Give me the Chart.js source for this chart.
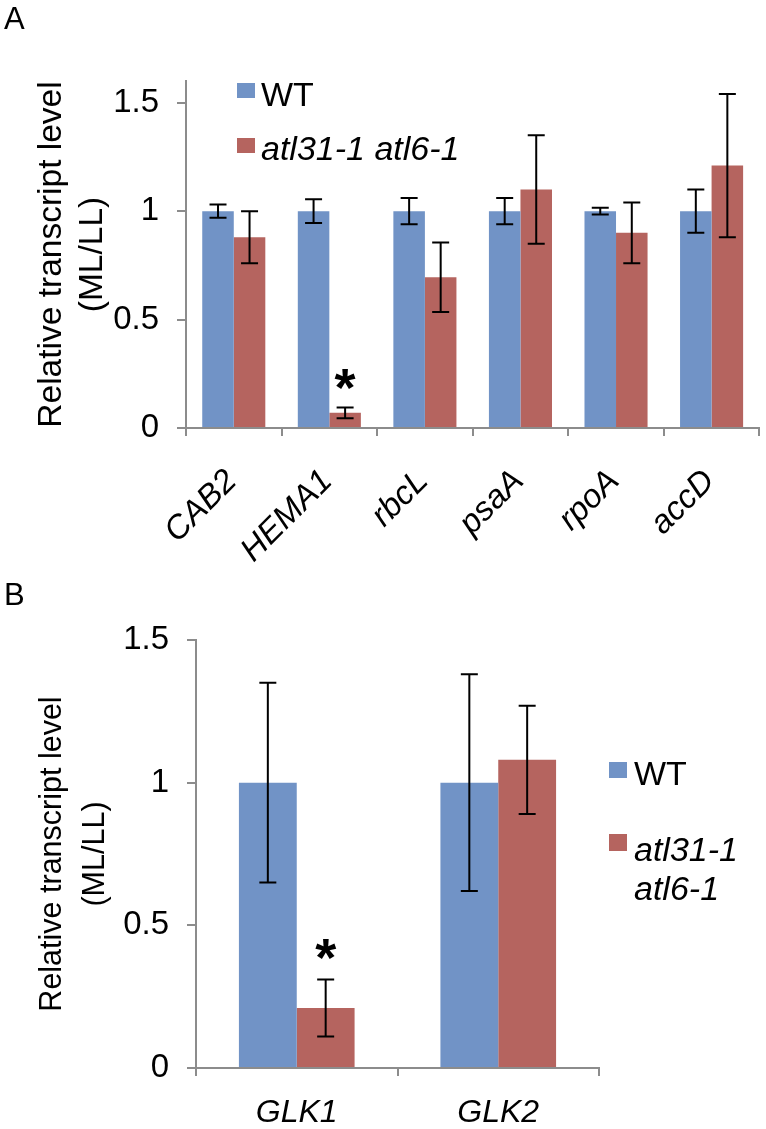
<!DOCTYPE html>
<html>
<head>
<meta charset="utf-8">
<script src="https://cdn.jsdelivr.net/npm/chart.js@4/dist/chart.umd.min.js"></script>
<style>
  body { margin:0; background:#fff; font-family:"Liberation Sans", Arial, sans-serif; }
  #wrap { position:relative; width:766px; height:1129px; overflow:hidden; }
  canvas { position:absolute; left:0; }
  .lbl { position:absolute; color:#000; white-space:nowrap; }
  .sq { position:absolute; width:18px; }
</style>
</head>
<body>
<div id="wrap">
  <canvas id="chartA" width="766" height="575" style="top:0"></canvas>
  <canvas id="chartB" width="766" height="549" style="top:580px"></canvas>

  <div class="lbl" style="left:4px;top:3px;font-size:31px;line-height:31px">A</div>
  <div class="lbl" style="left:4px;top:579px;font-size:31px;line-height:31px">B</div>

  <!-- leyenda panel A -->
  <div class="sq" style="left:237px;top:83px;height:15px;background:#7193c6"></div>
  <div class="lbl" style="left:261px;top:77px;font-size:34px;line-height:34px">WT</div>
  <div class="sq" style="left:237px;top:138px;height:15px;background:#b5645f"></div>
  <div class="lbl" style="left:261px;top:131px;font-size:34px;line-height:34px;font-style:italic">atl31-1 atl6-1</div>

  <!-- leyenda panel B -->
  <div class="sq" style="left:609px;top:762px;height:16px;background:#7193c6"></div>
  <div class="lbl" style="left:634px;top:756px;font-size:34px;line-height:34px">WT</div>
  <div class="sq" style="left:609px;top:834px;height:17px;background:#b5645f"></div>
  <div class="lbl" style="left:634px;top:830px;font-size:34px;line-height:39px;font-style:italic">atl31-1<br>atl6-1</div>
</div>

<script>
// Datos panel A
var genesA = ['CAB2', 'HEMA1', 'rbcL', 'psaA', 'rpoA', 'accD'];
var wtA = [1, 1, 1, 1, 1, 1];
var wtErrA = [0.03, 0.055, 0.06, 0.06, 0.015, 0.1];
var mutA = [0.88, 0.07, 0.695, 1.10, 0.90, 1.21];
var mutErrA = [0.12, 0.025, 0.16, 0.25, 0.14, 0.33];

// Datos panel B
var genesB = ['GLK1', 'GLK2'];
var wtB = [1, 1];
var wtErrB = [0.35, 0.38];
var mutB = [0.21, 1.08];
var mutErrB = [0.10, 0.19];

var yTicks = [0, 0.5, 1, 1.5];
var serieNames = ['WT', 'atl31-1 atl6-1'];

var AZUL = '#7193c6';
var ROJO = '#b5645f';
var GRIS = '#8c8c8c';
var FAMILIA = '"Liberation Sans", Arial, sans-serif';

Chart.defaults.font.family = FAMILIA;
Chart.defaults.color = '#000';

/*
* Dibuja las barras de error usando la escala y de la grafica
*/
var barrasError = {
  id: 'barrasError',
  afterDatasetsDraw: function(chart) {
    var ctx = chart.ctx;
    var y = chart.scales.y;
    ctx.save();
    ctx.strokeStyle = '#000';
    ctx.lineWidth = 2;
    chart.data.datasets.forEach(function(ds, i) {
      var meta = chart.getDatasetMeta(i);
      meta.data.forEach(function(bar, j) {
        var v = ds.data[j], e = ds.errores[j];
        var arriba = y.getPixelForValue(v + e);
        var abajo = y.getPixelForValue(v - e);
        ctx.beginPath();
        ctx.moveTo(bar.x, arriba); ctx.lineTo(bar.x, abajo);
        ctx.moveTo(bar.x - 8.5, arriba); ctx.lineTo(bar.x + 8.5, arriba);
        ctx.moveTo(bar.x - 8.5, abajo); ctx.lineTo(bar.x + 8.5, abajo);
        ctx.stroke();
      });
    });
    ctx.restore();
  }
};

/*
* Asterisco de significancia encima de la barra de error
*/
var asteriscos = {
  id: 'asteriscos',
  afterDatasetsDraw: function(chart, args, opts) {
    var ctx = chart.ctx;
    var y = chart.scales.y;
    ctx.save();
    ctx.fillStyle = '#000';
    ctx.font = 'bold 54px ' + FAMILIA;
    ctx.textAlign = 'center';
    ctx.textBaseline = 'alphabetic';
    (opts.marcas || []).forEach(function(m) {
      var ds = chart.data.datasets[m.ds];
      var bar = chart.getDatasetMeta(m.ds).data[m.idx];
      var top = y.getPixelForValue(ds.data[m.idx] + ds.errores[m.idx]);
      ctx.fillText('*', bar.x, top + m.dy);
    });
    ctx.restore();
  }
};

function crearGrafica(id, labels, wt, wtErr, mut, mutErr, cfg) {
  return new Chart(document.getElementById(id), {
    type: 'bar',
    data: {
      labels: labels,
      datasets: [
        { label: serieNames[0], data: wt, errores: wtErr, backgroundColor: AZUL },
        { label: serieNames[1], data: mut, errores: mutErr, backgroundColor: ROJO }
      ]
    },
    options: {
      responsive: false,
      animation: false,
      events: [],
      layout: { padding: cfg.padding },
      datasets: { bar: { categoryPercentage: cfg.catPct, barPercentage: 1 } },
      plugins: {
        legend: { display: false },
        tooltip: { enabled: false },
        asteriscos: { marcas: cfg.marcas }
      },
      scales: {
        x: {
          grid: { drawOnChartArea: false, tickLength: 8, color: GRIS, lineWidth: 2 },
          border: { color: GRIS, width: 2 },
          ticks: {
            autoSkip: false,
            minRotation: cfg.rot, maxRotation: cfg.rot,
            padding: cfg.xPad,
            labelOffset: cfg.labelOffset,
            font: { size: cfg.xFont, style: 'italic' }
          },
          afterFit: function(s) { s.height = cfg.xHeight; }
        },
        y: {
          min: 0, max: cfg.yMax,
          afterBuildTicks: function(s) { s.ticks = yTicks.map(function(v) { return { value: v }; }); },
          grid: { drawOnChartArea: false, tickLength: 9, color: GRIS, lineWidth: 2 },
          border: { color: GRIS, width: 2 },
          ticks: {
            padding: 18,
            font: { size: 33 },
            callback: function(v) { return String(v); }
          },
          title: {
            display: true,
            text: ['Relative transcript level', '(ML/LL)'],
            font: { size: cfg.titleSize, lineHeight: cfg.titleLh },
            padding: { top: cfg.titlePad, bottom: 0 }
          },
          afterFit: function(s) { s.width = cfg.yWidth; }
        }
      }
    },
    plugins: [barrasError, asteriscos]
  });
}

crearGrafica('chartA', genesA, wtA, wtErrA, mutA, mutErrA, {
  padding: { left: 0, right: 5, top: 81, bottom: 0 },
  catPct: 0.66, rot: 45, xPad: 26, labelOffset: -2, xFont: 33, xHeight: 147,
  yMax: 1.6, yWidth: 186, titleSize: 33.5, titleLh: 1.2, titlePad: 32,
  marcas: [{ ds: 1, idx: 1, dy: -1 }]
});

crearGrafica('chartB', genesB, wtB, wtErrB, mutB, mutErrB, {
  padding: { left: 0, right: 167, top: 60, bottom: 0 },
  catPct: 0.574, rot: 0, xPad: 18, labelOffset: 0, xFont: 32, xHeight: 61,
  yMax: 1.5, yWidth: 196, titleSize: 30.5, titleLh: 1.38, titlePad: 32,
  marcas: [{ ds: 1, idx: 0, dy: -4 }]
});
</script>
</body>
</html>
